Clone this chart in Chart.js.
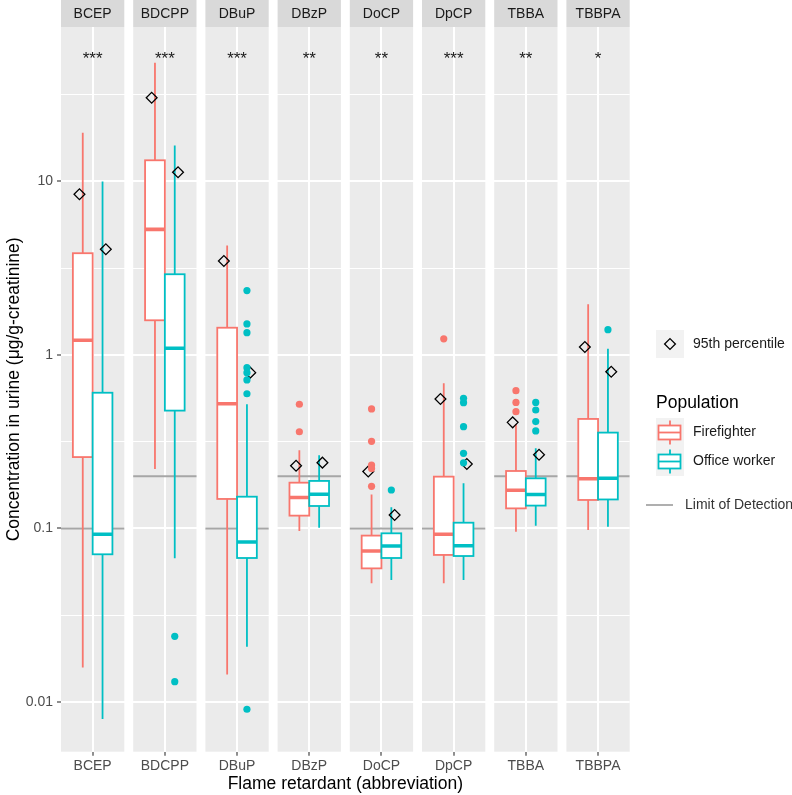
<!DOCTYPE html>
<html><head><meta charset="utf-8">
<script src="https://cdn.jsdelivr.net/npm/chart.js@4.4.0/dist/chart.umd.min.js"></script>
<style>html,body{margin:0;padding:0;background:#fff;}#wrap{width:792px;height:795px;position:relative;}</style>
</head><body><div id="wrap"><canvas id="c" width="792" height="795"></canvas></div>
<script>
// ---------- data ----------
const categories = ['BCEP','BDCPP','DBuP','DBzP','DoCP','DpCP','TBBA','TBBPA'];
const groups = ['Firefighter','Office worker'];
const significance = ['***','***','***','**','**','***','**','*'];
const lodValues = [0.1,0.2,0.1,0.2,0.1,0.1,0.2,0.2];

// Firefighter box statistics
const ffLow    = [0.0158, 0.220, 0.0144, 0.0967, 0.0483, 0.0483, 0.0959, 0.098];
const ffQ1     = [0.258, 1.585, 0.148, 0.1186, 0.0589, 0.0704, 0.1306, 0.146];
const ffMedian = [1.215, 5.30, 0.524, 0.151, 0.0742, 0.0926, 0.166, 0.1936];
const ffQ3     = [3.86, 13.25, 1.436, 0.1837, 0.091, 0.199, 0.2145, 0.428];
const ffHigh   = [19.1, 48.4, 4.27, 0.282, 0.157, 0.687, 0.40, 1.96];
const ffP95    = [8.44, 30.4, 3.48, 0.230, 0.213, 0.558, 0.409, 1.112];
const ffOutliers = [[], [], [], [0.520, 0.361], [0.489, 0.318, 0.232, 0.222, 0.175], [1.24], [0.623, 0.533, 0.471], []];

// Office worker box statistics
const owLow    = [0.00798, 0.0673, 0.0208, 0.101, 0.0505, 0.0505, 0.1038, 0.1023];
const owQ1     = [0.071, 0.478, 0.0676, 0.1348, 0.0676, 0.0694, 0.1355, 0.147];
const owMedian = [0.0926, 1.093, 0.0836, 0.1575, 0.0793, 0.0796, 0.157, 0.1946];
const owQ3     = [0.606, 2.92, 0.1525, 0.188, 0.0938, 0.108, 0.1946, 0.357];
const owHigh   = [10.0, 16.1, 0.520, 0.264, 0.1325, 0.182, 0.29, 1.087];
const owP95    = [4.07, 11.3, 0.791, 0.2395, 0.1196, 0.2354, 0.266, 0.801];
const owOutliers = [[], [0.0239, 0.0131], [2.35, 1.51, 1.345, 0.845, 0.791, 0.718, 0.598, 0.00908], [], [0.1667], [0.563, 0.531, 0.386, 0.271, 0.239], [0.533, 0.482, 0.413, 0.365], [1.40]];

const yTickValues = [0.01, 0.1, 1, 10];
const yTickLabels = ['0.01', '0.1', '1', '10'];
const yMinorValues = [0.0316, 0.316, 3.16, 31.6];

// ---------- layout / style constants ----------
const FONT = "'Liberation Sans', Arial, Helvetica, sans-serif";
const RED = '#F8766D', CYAN = '#00BFC4';
const PANEL_W = 1.2, GAP = 0.1687, STEP = PANEL_W + GAP;
const X_MAX = 7 * STEP + PANEL_W;
const BOX_HALF = 0.1875, DODGE = 0.1875, P95_DODGE = 0.25;
const Y_MIN = 0.00517, Y_MAX = 77.7;
const catX = i => i * STEP + PANEL_W / 2;

function buildStats(low, q1, med, q3, high) {
  return low.map((_, i) => ({low: low[i], q1: q1[i], med: med[i], q3: q3[i], high: high[i]}));
}
const ffStats = buildStats(ffLow, ffQ1, ffMedian, ffQ3, ffHigh);
const owStats = buildStats(owLow, owQ1, owMedian, owQ3, owHigh);

function outlierPoints(list, off) {
  const pts = [];
  list.forEach((arr, i) => arr.forEach(v => pts.push({x: catX(i) + off, y: v})));
  return pts;
}
const p95Points = [];
categories.forEach((c, i) => {
  p95Points.push({x: catX(i) - P95_DODGE, y: ffP95[i]});
  p95Points.push({x: catX(i) + P95_DODGE, y: owP95[i]});
});

const facetPlugin = {
  id: 'facets',
  beforeDraw(chart) {
    const {ctx, chartArea, scales: {x}} = chart;
    ctx.save();
    ctx.fillStyle = '#fff';
    ctx.fillRect(0, 0, chart.width, chart.height);
    categories.forEach((c, i) => {
      const l = x.getPixelForValue(i * STEP), r = x.getPixelForValue(i * STEP + PANEL_W);
      ctx.fillStyle = '#EBEBEB';
      ctx.fillRect(l, chartArea.top, r - l, chartArea.bottom - chartArea.top);
      ctx.fillStyle = '#D9D9D9';
      ctx.fillRect(l, 0, r - l, chartArea.top);
      ctx.fillStyle = '#1A1A1A';
      ctx.font = '14px ' + FONT;
      ctx.textAlign = 'center';
      ctx.textBaseline = 'middle';
      ctx.fillText(c, (l + r) / 2, chartArea.top / 2 + 1);
    });
    ctx.restore();
  },
  beforeDatasetsDraw(chart) {
    const {ctx, chartArea, scales: {x, y}} = chart;
    ctx.save();
    ctx.beginPath();
    ctx.rect(chartArea.left, chartArea.top, chartArea.right - chartArea.left, chartArea.bottom - chartArea.top);
    ctx.clip();
    // limit of detection
    lodValues.forEach((v, i) => {
      const l = x.getPixelForValue(i * STEP), r = x.getPixelForValue(i * STEP + PANEL_W);
      const py = y.getPixelForValue(v);
      ctx.strokeStyle = '#A6A6A6';
      ctx.lineWidth = 1.8;
      ctx.beginPath(); ctx.moveTo(l, py); ctx.lineTo(r, py); ctx.stroke();
    });
    // boxes
    const drawBox = (s, cx, color) => {
      const l = x.getPixelForValue(cx - BOX_HALF), r = x.getPixelForValue(cx + BOX_HALF);
      const m = x.getPixelForValue(cx);
      const yl = y.getPixelForValue(s.low), y1 = y.getPixelForValue(s.q1), ym = y.getPixelForValue(s.med);
      const y3 = y.getPixelForValue(s.q3), yh = y.getPixelForValue(s.high);
      ctx.strokeStyle = color;
      ctx.lineWidth = 1.8;
      ctx.beginPath();
      ctx.moveTo(m, y3); ctx.lineTo(m, yh);
      ctx.moveTo(m, y1); ctx.lineTo(m, yl);
      ctx.stroke();
      ctx.fillStyle = '#fff';
      ctx.fillRect(l, y3, r - l, y1 - y3);
      ctx.strokeRect(l, y3, r - l, y1 - y3);
      ctx.lineWidth = 3.6;
      ctx.beginPath(); ctx.moveTo(l, ym); ctx.lineTo(r, ym); ctx.stroke();
    };
    categories.forEach((c, i) => {
      drawBox(ffStats[i], catX(i) - DODGE, RED);
      drawBox(owStats[i], catX(i) + DODGE, CYAN);
    });
    ctx.restore();
    // significance stars
    ctx.save();
    ctx.fillStyle = '#1A1A1A';
    ctx.font = '17px ' + FONT;
    ctx.textAlign = 'center';
    ctx.textBaseline = 'alphabetic';
    significance.forEach((s, i) => ctx.fillText(s, x.getPixelForValue(catX(i)), 63.5));
    ctx.restore();
  },
  afterDraw(chart) {
    const {ctx} = chart;
    ctx.save();
    ctx.textAlign = 'left';
    ctx.textBaseline = 'middle';
    // 95th percentile key
    ctx.fillStyle = '#F2F2F2';
    ctx.fillRect(656, 330, 28, 28);
    ctx.strokeStyle = '#000';
    ctx.lineWidth = 1.3;
    ctx.beginPath();
    ctx.moveTo(670, 344 - 5.4); ctx.lineTo(675.4, 344); ctx.lineTo(670, 349.4); ctx.lineTo(664.6, 344); ctx.closePath();
    ctx.stroke();
    ctx.fillStyle = '#1A1A1A';
    ctx.font = '14px ' + FONT;
    ctx.fillText('95th percentile', 693, 344);
    // population
    ctx.font = '17.5px ' + FONT;
    ctx.fillStyle = '#000';
    ctx.fillText('Population', 656, 403);
    ctx.fillStyle = '#F2F2F2';
    ctx.fillRect(656, 418, 28, 58);
    const key = (cy, color) => {
      ctx.strokeStyle = color;
      ctx.lineWidth = 1.8;
      ctx.beginPath();
      ctx.moveTo(670, cy - 12); ctx.lineTo(670, cy - 7);
      ctx.moveTo(670, cy + 7); ctx.lineTo(670, cy + 12);
      ctx.stroke();
      ctx.fillStyle = '#fff';
      ctx.fillRect(658.5, cy - 7, 22, 14);
      ctx.strokeRect(658.5, cy - 7, 22, 14);
      ctx.beginPath(); ctx.moveTo(658.5, cy); ctx.lineTo(680.5, cy); ctx.stroke();
    };
    key(432.5, RED);
    key(461.5, CYAN);
    ctx.fillStyle = '#1A1A1A';
    ctx.font = '14px ' + FONT;
    ctx.fillText(groups[0], 693, 432.5);
    ctx.fillText(groups[1], 693, 461.5);
    // limit of detection
    ctx.strokeStyle = '#A6A6A6';
    ctx.lineWidth = 1.8;
    ctx.beginPath(); ctx.moveTo(646, 505); ctx.lineTo(673, 505); ctx.stroke();
    ctx.fillStyle = '#333';
    ctx.fillText('Limit of Detection', 685, 505);
    ctx.restore();
  }
};

const isMajorY = v => yTickValues.some(t => Math.abs(t - v) / t < 1e-6);

new Chart(document.getElementById('c'), {
  type: 'scatter',
  data: {
    datasets: [
      {label: groups[0], data: outlierPoints(ffOutliers, -DODGE), backgroundColor: RED, borderWidth: 0, pointRadius: 3.6},
      {label: groups[1], data: outlierPoints(owOutliers, DODGE), backgroundColor: CYAN, borderWidth: 0, pointRadius: 3.6},
      {label: '95th percentile', data: p95Points, pointStyle: 'rectRot', pointRadius: 5.4, borderColor: '#000', borderWidth: 1.3, backgroundColor: 'rgba(0,0,0,0)'}
    ]
  },
  options: {
    responsive: false, animation: false, devicePixelRatio: 1,
    layout: {padding: {left: 0, top: 27, right: 162.3, bottom: 0}},
    plugins: {legend: {display: false}, tooltip: {enabled: false}},
    scales: {
      x: {
        type: 'linear', min: 0, max: X_MAX,
        afterBuildTicks: s => { s.ticks = categories.map((c, i) => ({value: catX(i)})); },
        afterFit: s => { s.height = 43.3; },
        ticks: {callback: (v, i) => categories[i], color: '#4D4D4D', font: {family: FONT, size: 14}, padding: 2, autoSkip: false, maxRotation: 0},
        grid: {color: '#FFFFFF', lineWidth: 2, tickColor: '#333333', tickLength: 4, tickWidth: 1.1},
        border: {display: false},
        title: {display: true, text: 'Flame retardant (abbreviation)', color: '#000', font: {family: FONT, size: 17.5}, padding: {top: 0, bottom: 0}}
      },
      y: {
        type: 'logarithmic', min: Y_MIN, max: Y_MAX, bounds: 'data',
        afterBuildTicks: s => { s.ticks = yTickValues.concat(yMinorValues).sort((a, b) => a - b).map(v => ({value: v})); },
        afterFit: s => { s.width = 61; },
        ticks: {callback: v => { const k = yTickValues.findIndex(t => Math.abs(t - v) / t < 1e-6); return k >= 0 ? yTickLabels[k] : ''; },
                color: '#4D4D4D', font: {family: FONT, size: 14}, padding: 4, autoSkip: false},
        grid: {color: '#FFFFFF', lineWidth: c => isMajorY(c.tick.value) ? 2 : 1.1,
               tickColor: c => isMajorY(c.tick.value) ? '#333333' : 'rgba(0,0,0,0)', tickLength: 4, tickWidth: 1.1},
        border: {display: false},
        title: {display: true, text: 'Concentration in urine (μg/g-creatinine)', color: '#000', font: {family: FONT, size: 17.5}, padding: {top: 4, bottom: 0}}
      }
    }
  },
  plugins: [facetPlugin]
});
</script></body></html>
